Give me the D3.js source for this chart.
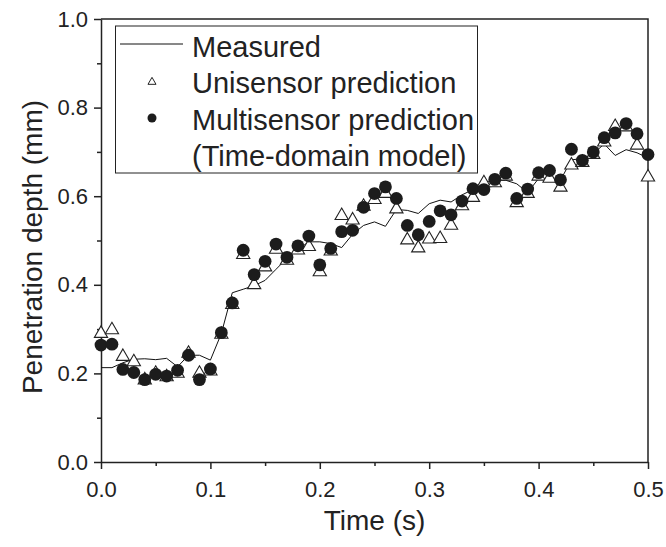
<!DOCTYPE html>
<html>
<head>
<meta charset="utf-8">
<script src="https://cdn.jsdelivr.net/npm/d3@7"></script>
<style>
  body { margin: 0; background: #fff; }
  text { font-family: "Liberation Sans", Arial, sans-serif; fill: #222; }
</style>
</head>
<body>
<script>
// Time stamps (s)
var times = [
    0.00, 0.01, 0.02, 0.03, 0.04, 0.05, 0.06, 0.07, 0.08, 0.09,
    0.10, 0.11, 0.12, 0.13, 0.14, 0.15, 0.16, 0.17, 0.18, 0.19,
    0.20, 0.21, 0.22, 0.23, 0.24, 0.25, 0.26, 0.27, 0.28, 0.29,
    0.30, 0.31, 0.32, 0.33, 0.34, 0.35, 0.36, 0.37, 0.38, 0.39,
    0.40, 0.41, 0.42, 0.43, 0.44, 0.45, 0.46, 0.47, 0.48, 0.49,
    0.50
];

// Measured penetration depth (mm)
var measured = [
    0.213, 0.213, 0.224, 0.232, 0.233, 0.231, 0.234, 0.215, 0.241, 0.241,
    0.230, 0.290, 0.382, 0.390, 0.398, 0.410, 0.435, 0.460, 0.480, 0.497,
    0.497, 0.493, 0.484, 0.514, 0.534, 0.542, 0.532, 0.570, 0.568, 0.561,
    0.583, 0.591, 0.587, 0.603, 0.615, 0.632, 0.636, 0.636, 0.628, 0.608,
    0.640, 0.634, 0.636, 0.682, 0.685, 0.696, 0.718, 0.692, 0.705, 0.698,
    0.686
];

// Unisensor prediction (mm)
var unisensor = [
    0.290, 0.298, 0.238, 0.226, 0.185, 0.200, 0.192, 0.200, 0.245, 0.200,
    0.205, 0.288, 0.355, 0.468, 0.400, 0.440, 0.480, 0.455, 0.478, 0.486,
    0.429, 0.476, 0.556, 0.546, 0.577, 0.592, 0.606, 0.571, 0.501, 0.483,
    0.503, 0.504, 0.534, 0.578, 0.597, 0.630, 0.630, 0.645, 0.585, 0.606,
    0.645, 0.640, 0.620, 0.670, 0.676, 0.694, 0.722, 0.757, 0.756, 0.715,
    0.643
];

// Multisensor prediction, time-domain model (mm)
var multisensor = [
    0.264, 0.266, 0.209, 0.202, 0.186, 0.198, 0.194, 0.207, 0.241, 0.186,
    0.210, 0.292, 0.359, 0.478, 0.423, 0.453, 0.492, 0.462, 0.488, 0.510,
    0.445, 0.482, 0.520, 0.523, 0.575, 0.606, 0.621, 0.595, 0.534, 0.513,
    0.543, 0.567, 0.558, 0.589, 0.617, 0.615, 0.638, 0.652, 0.595, 0.616,
    0.653, 0.658, 0.637, 0.706, 0.681, 0.700, 0.732, 0.743, 0.764, 0.741,
    0.694
];

// Tick values
var xTicks = [0.0, 0.1, 0.2, 0.3, 0.4, 0.5];
var xMinorTicks = [0.05, 0.15, 0.25, 0.35, 0.45];
var yTicks = [0.0, 0.2, 0.4, 0.6, 0.8, 1.0];
var yMinorTicks = [0.1, 0.3, 0.5, 0.7, 0.9];

var legendLabels = ["Measured", "Unisensor prediction", "Multisensor prediction", "(Time-domain model)"];

// Dimensions
var w = 666;
var h = 547;
var margin = {top: 19, right: 18, bottom: 85, left: 101};
var ink = "#222";

var svg = d3.select("body")
    .append("svg")
    .attr("width", w)
    .attr("height", h);

var xScale = d3.scaleLinear()
    .domain([0, 0.5])
    .range([margin.left, w - margin.right]);

var yScale = d3.scaleLinear()
    .domain([0, 1.0])
    .range([h - margin.bottom, margin.top]);

// Minor ticks first, majors on top
svg.append("g")
    .attr("class", "axis")
    .attr("transform", "translate(0," + (h - margin.bottom) + ")")
    .call(d3.axisBottom(xScale).tickValues(xMinorTicks).tickSize(4).tickFormat(""))
    .call(function(g) { g.select(".domain").remove(); });

svg.append("g")
    .attr("class", "axis")
    .attr("transform", "translate(" + margin.left + ",0)")
    .call(d3.axisLeft(yScale).tickValues(yMinorTicks).tickSize(4).tickFormat(""))
    .call(function(g) { g.select(".domain").remove(); });

// x-axis
var xAxis = d3.axisBottom(xScale)
    .tickValues(xTicks)
    .tickSizeInner(7)
    .tickSizeOuter(0)
    .tickPadding(12)
    .tickFormat(d3.format(".1f"));
svg.append("g")
    .attr("class", "axis")
    .attr("transform", "translate(0," + (h - margin.bottom) + ")")
    .call(xAxis);

// y-axis
var yAxis = d3.axisLeft(yScale)
    .tickValues(yTicks)
    .tickSizeInner(7)
    .tickSizeOuter(0)
    .tickPadding(6)
    .tickFormat(d3.format(".1f"));
svg.append("g")
    .attr("class", "axis")
    .attr("transform", "translate(" + margin.left + ",0)")
    .call(yAxis);

svg.selectAll(".axis path, .axis line")
    .attr("stroke", ink)
    .attr("stroke-width", 1.5);
svg.selectAll(".axis text")
    .attr("font-size", "22px")
    .attr("font-family", "'Liberation Sans', Arial, sans-serif")
    .attr("fill", ink);

// Frame: top and right borders
svg.append("path")
    .attr("d", "M" + xScale(0) + "," + yScale(1) + "H" + xScale(0.5) + "V" + yScale(0))
    .attr("fill", "none")
    .attr("stroke", ink)
    .attr("stroke-width", 1.5);

// Axis titles
svg.append("text")
    .attr("x", (xScale(0) + xScale(0.5)) / 2)
    .attr("y", 530)
    .attr("text-anchor", "middle")
    .attr("font-size", "28px")
    .text("Time (s)");

svg.append("text")
    .attr("transform", "translate(42,247) rotate(-90)")
    .attr("text-anchor", "middle")
    .attr("font-size", "28px")
    .text("Penetration depth (mm)");

// Measured line
var line = d3.line()
    .x(function(d, i) { return xScale(times[i]); })
    .y(function(d) { return yScale(d); });

svg.append("path")
    .datum(measured)
    .attr("d", line)
    .attr("fill", "none")
    .attr("stroke", "#111")
    .attr("stroke-width", 1);

// Unisensor triangles
svg.selectAll(".uni")
    .data(unisensor)
    .enter()
    .append("path")
    .attr("class", "uni")
    .attr("d", d3.symbol().type(d3.symbolTriangle).size(76))
    .attr("transform", function(d, i) {
        return "translate(" + xScale(times[i]) + "," + yScale(d) + ")";
    })
    .attr("fill", "#fff")
    .attr("stroke", "#222")
    .attr("stroke-width", 1.1);

// Multisensor circles
svg.selectAll(".multi")
    .data(multisensor)
    .enter()
    .append("circle")
    .attr("class", "multi")
    .attr("cx", function(d, i) { return xScale(times[i]); })
    .attr("cy", function(d) { return yScale(d); })
    .attr("r", 6.4)
    .attr("fill", "#1c1c1c");

// Legend
var legend = svg.append("g");
legend.append("rect")
    .attr("x", 115.5)
    .attr("y", 26)
    .attr("width", 362)
    .attr("height", 147)
    .attr("fill", "#fff")
    .attr("stroke", ink)
    .attr("stroke-width", 1);

legend.append("line")
    .attr("x1", 120)
    .attr("x2", 183)
    .attr("y1", 44)
    .attr("y2", 44)
    .attr("stroke", "#111")
    .attr("stroke-width", 1);

legend.append("path")
    .attr("d", d3.symbol().type(d3.symbolTriangle).size(28))
    .attr("transform", "translate(152,82)")
    .attr("fill", "#fff")
    .attr("stroke", "#222")
    .attr("stroke-width", 1);

legend.append("circle")
    .attr("cx", 152)
    .attr("cy", 118)
    .attr("r", 4.5)
    .attr("fill", "#1c1c1c");

legend.selectAll(".legend-text")
    .data(legendLabels)
    .enter()
    .append("text")
    .attr("class", "legend-text")
    .attr("x", 192)
    .attr("y", function(d, i) { return 56.5 + i * 36.5; })
    .attr("font-size", "29px")
    .text(function(d) { return d; });
</script>
</body>
</html>
